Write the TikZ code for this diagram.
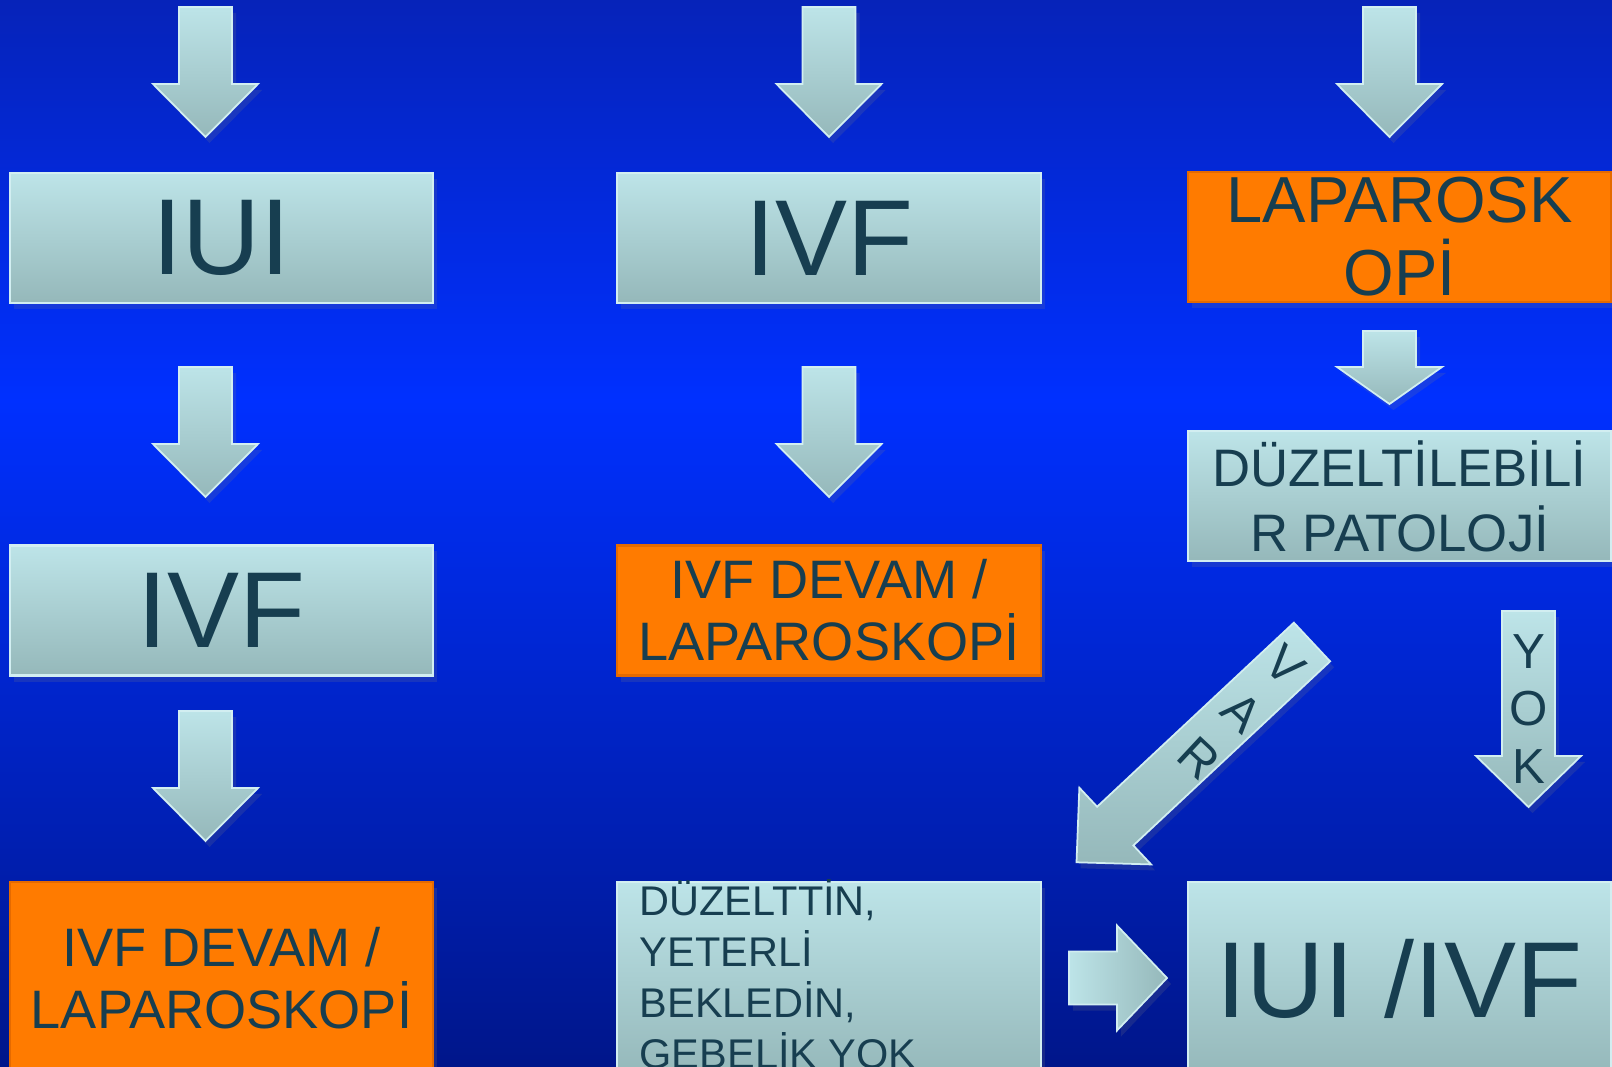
\documentclass[tikz,border=0pt]{standalone}
\usepackage{fontspec}
\setmainfont{Liberation Sans}
\usepackage{tikz}
\usetikzlibrary{calc}
\usetikzlibrary{shadows}

\definecolor{bgtop}{HTML}{0623B9}
\definecolor{bgmid}{HTML}{0030FF}
\definecolor{bgbot}{HTML}{00168A}
\definecolor{boxtop}{HTML}{BDE4E8}
\definecolor{boxbot}{HTML}{95B8BA}
\definecolor{boxedge}{HTML}{D2EEF1}
\definecolor{boxorange}{HTML}{FF7B00}
\definecolor{orangeedge}{HTML}{E56A00}
\definecolor{ink}{HTML}{173E50}

\tikzset{
  softshadow/.style={drop shadow={opacity=0.18, shadow xshift=0.4mm, shadow yshift=-0.6mm}},
  lightbox/.style={rectangle, draw=boxedge, line width=0.6pt, top color=boxtop, bottom color=boxbot,
    minimum width=4.23cm, minimum height=1.3cm, inner sep=0pt, text=ink, align=center, softshadow},
  orangebox/.style={rectangle, draw=orangeedge, line width=0.6pt, fill=boxorange,
    minimum width=4.23cm, minimum height=1.3cm, inner sep=0pt, text=ink, align=center, softshadow},
  fatarrow/.style={draw=boxedge, line width=0.5pt, top color=boxtop, bottom color=boxbot, softshadow},
  sidearrow/.style={draw=boxedge, line width=0.5pt, left color=boxtop, right color=boxbot, softshadow},
  plain/.style={inner sep=0pt, text=ink},
  bigtext/.style={font=\fontsize{30.7}{36}\selectfont},
  midtext/.style={font=\fontsize{15.4}{17.6}\selectfont},
  laptext/.style={font=\fontsize{18.5}{20.8}\selectfont},
  pattext/.style={font=\fontsize{15}{18.5}\selectfont},
  smalltext/.style={font=\fontsize{11.8}{14.5}\selectfont},
}

\newcommand{\fatarr}[4][0.52cm]{%
  \coordinate (hb) at ($(#4)!#1!(#3)$);
  \path[#2] ($(#3)!0.265cm!90:(#4)$) -- ($(hb)!0.265cm!90:(#4)$) -- ($(hb)!0.525cm!90:(#4)$)
    -- (#4) -- ($(hb)!0.525cm!-90:(#4)$) -- ($(hb)!0.265cm!-90:(#4)$) -- ($(#3)!0.265cm!-90:(#4)$) -- cycle;
}

\begin{document}
\begin{tikzpicture}[x=0.01cm, y=-0.01cm]
    \useasboundingbox (0,0) rectangle (1612,1067);
    \shade[top color=bgtop, bottom color=bgmid] (0,0) rectangle (1612,401);
    \shade[top color=bgmid, bottom color=bgbot] (0,400) rectangle (1612,1067);
    \clip (0,0) rectangle (1612,1067);

    \node[lightbox, bigtext] (iui)    at ( 221.5, 238)   {IUI};
    \node[lightbox, bigtext] (ivfa)   at ( 221.5, 610.5) {IVF};
    \node[orangebox, midtext, minimum height=1.93cm] (devama) at ( 221.5, 978.5) {IVF DEVAM /\\LAPAROSKOPİ};
    \node[lightbox, bigtext] (ivfb)   at ( 829,   238)   {IVF};
    \node[orangebox, midtext] (devamb) at ( 829,   610.5) {IVF DEVAM /\\LAPAROSKOPİ};
    \node[lightbox, minimum height=1.93cm] (duz) at ( 829, 978.5) {};
    \node[plain, smalltext, anchor=north west, align=left] (duztxt) at (639, 879)
      {DÜZELTTİN,\\YETERLİ\\BEKLEDİN,\\GEBELİK YOK};
    \node[orangebox, laptext] (lap)    at (1399.5, 237)   {LAPAROSK\\OPİ};
    \node[lightbox, pattext]  (duzpat) at (1399.5, 496)   {DÜZELTİLEBİLİ\\R PATOLOJİ};
    \node[lightbox, bigtext, minimum height=1.93cm] (iuiivf) at (1399.5, 978.5) {IUI /IVF};

    \coordinate (a1s) at ( 205.5,   7); \coordinate (a1e) at ( 205.5, 137);
    \coordinate (a2s) at ( 205.5, 367); \coordinate (a2e) at ( 205.5, 497);
    \coordinate (a3s) at ( 205.5, 711); \coordinate (a3e) at ( 205.5, 841);
    \coordinate (b1s) at ( 829,     7); \coordinate (b1e) at ( 829,   137);
    \coordinate (b2s) at ( 829,   367); \coordinate (b2e) at ( 829,   497);
    \coordinate (c1s) at (1389.5,   7); \coordinate (c1e) at (1389.5, 137);
    \coordinate (c2s) at (1389.5, 331); \coordinate (c2e) at (1389.5, 404);
    \coordinate (yoks) at (1528.5, 611); \coordinate (yoke) at (1528.5, 807);
    \coordinate (vars) at (1312, 642);  \coordinate (vare) at (1076.5, 862.3);
    \coordinate (rs)  at (1069, 978);   \coordinate (re)  at (1167, 978);

    \fatarr[0.53cm]{fatarrow}{a1s}{a1e}
    \fatarr[0.53cm]{fatarrow}{a2s}{a2e}
    \fatarr[0.53cm]{fatarrow}{a3s}{a3e}
    \fatarr[0.53cm]{fatarrow}{b1s}{b1e}
    \fatarr[0.53cm]{fatarrow}{b2s}{b2e}
    \fatarr[0.53cm]{fatarrow}{c1s}{c1e}
    \fatarr[0.37cm]{fatarrow}{c2s}{c2e}
    \fatarr[0.51cm]{fatarrow}{yoks}{yoke}
    \fatarr[0.53cm]{fatarrow}{vars}{vare}
    \fatarr[0.50cm]{sidearrow}{rs}{re}

    \node[plain, align=center, font=\fontsize{14}{16.3}\selectfont] (yok) at (1528.5, 709) {Y\\O\\K};
    \node[plain, align=center, rotate=-43, font=\fontsize{14}{18}\selectfont] (var) at (1242, 712) {V\\A\\R};
\end{tikzpicture}
\end{document}
